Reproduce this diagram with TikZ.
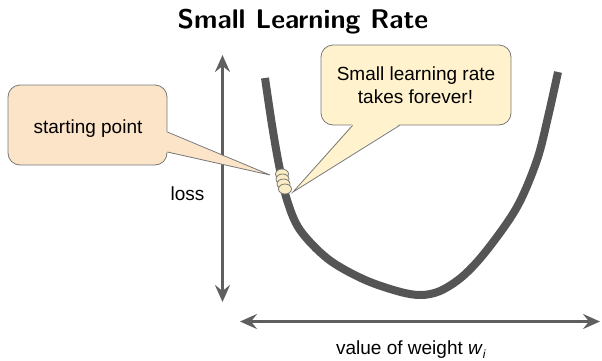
\documentclass[tikz,border=0pt]{standalone}
\usepackage{fontspec}
\setmainfont{Liberation Sans}
\usetikzlibrary{arrows.meta,calc,shapes.geometric}
\definecolor{axisgray}{RGB}{95,95,95}
\definecolor{curvegray}{RGB}{85,85,85}
\definecolor{edgegray}{RGB}{120,120,120}
\definecolor{peach}{RGB}{252,228,200}
\definecolor{paleyellow}{RGB}{255,242,204}
\definecolor{ballfill}{RGB}{250,236,196}
\begin{document}
\begin{tikzpicture}[x=1pt,y=-1pt,
  axis/.style={draw=axisgray,line width=3pt,{Stealth[length=17pt,width=15pt,inset=6pt]}-{Stealth[length=17pt,width=15pt,inset=6pt]}},
  curve/.style={draw=curvegray,line width=8pt},
  bubble/.style={draw=edgegray,line width=0.8pt,rounded corners=12pt,inner sep=0pt},
  lbl/.style={inner sep=0pt,anchor=base,font=\fontsize{19}{24}\selectfont},
  ball/.style={draw=edgegray,fill=ballfill,line width=0.8pt},
  pointer/.style={draw=edgegray,line width=0.8pt}]
\useasboundingbox (0,0) rectangle (602,360);

% title
\node[inner sep=0pt,anchor=base,font=\fontsize{27}{30}\sffamily\bfseries\selectfont\addfontfeatures{LetterSpace=2}] (title) at (303,28) {Small Learning Rate};

% axes
\coordinate (ytop) at (222.5,55);
\coordinate (ybot) at (222.5,302);
\coordinate (xl) at (240,321.5);
\coordinate (xr) at (600,321.5);
\draw[axis] (ytop) -- (ybot);
\draw[axis] (xl) -- (xr);
\node[lbl] (loss) at (187.5,200) {loss};
\node[lbl] (xlab) at (411,354) {value of weight \textit{w}\raisebox{-0.45ex}{\fontsize{12}{14}\selectfont\textit{i}}};

% curve
\draw[curve] plot[smooth,tension=0.55] coordinates {(265,78) (272,125) (279,165) (287,200) (300,230) (328,259) (363,279) (397,291) (420,295) (440,291) (463,276) (487,250) (517,207) (537,160) (548,117) (558,72)};

% balls
\foreach \i/\p in {1/{(282,174)},2/{(282.5,179)},3/{(283.5,184)},4/{(285,189)}}
  \node[ball,ellipse,minimum width=13pt,minimum height=10pt,inner sep=0pt] (b\i) at \p {};

% callout boxes
\node[bubble,fill=peach,minimum width=159pt,minimum height=80pt] (sp) at (87.5,125) {};
\node[lbl] (sptext) at (88,133) {starting point};
\node[bubble,fill=paleyellow,minimum width=190pt,minimum height=80pt] (lr) at (416,85) {};
\node[lbl] (lrtext1) at (416,80) {Small learning rate};
\node[lbl] (lrtext2) at (415.5,103.3) {takes forever!};

% pointers
\coordinate (sptip) at (270,175);
\coordinate (spa) at ($(sp.east)+(0,7)$);
\coordinate (spb) at ($(sp.east)+(0,27)$);
\fill[peach] ($(spa)+(-1.5,0)$) -- (sptip) -- ($(spb)+(-1.5,0)$) -- cycle;
\draw[pointer] (spa) -- (sptip) -- (spb);

\coordinate (lrtip) at (293,192);
\coordinate (lra) at ($(lr.south west)+(32,0)$);
\coordinate (lrb) at ($(lr.south west)+(79,0)$);
\fill[paleyellow] ($(lra)+(0,-1.5)$) -- (lrtip) -- ($(lrb)+(0,-1.5)$) -- cycle;
\draw[pointer] (lra) -- (lrtip) -- (lrb);
\end{tikzpicture}
\end{document}
